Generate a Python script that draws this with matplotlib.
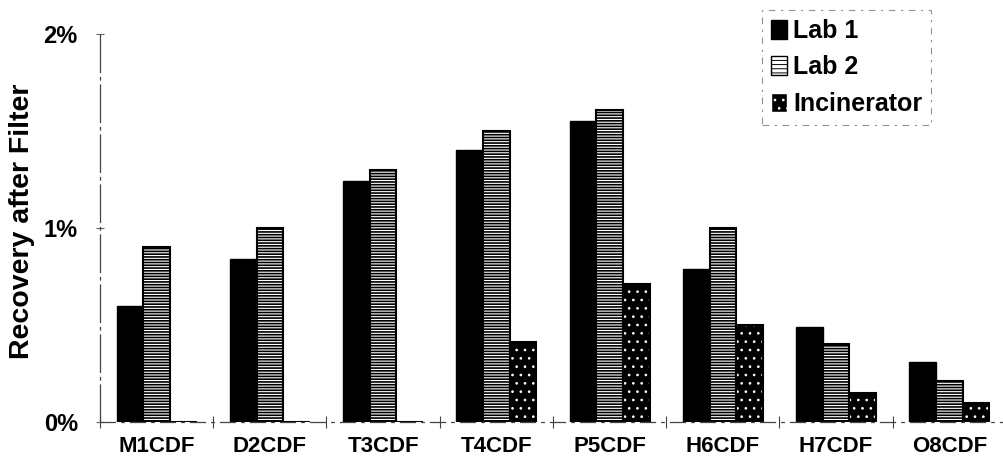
import numpy as np
import matplotlib.pyplot as plt
import matplotlib as mpl
from matplotlib.patches import Patch

mpl.rcParams.update({
    "font.family": ["Liberation Sans", "DejaVu Sans"],
    "font.weight": "bold",
    "hatch.linewidth": 1.2,
})

# values (percent)
categories = ["M1CDF", "D2CDF", "T3CDF", "T4CDF", "P5CDF", "H6CDF", "H7CDF", "O8CDF"]
lab1 = [0.60, 0.84, 1.24, 1.40, 1.55, 0.79, 0.49, 0.31]
lab2 = [0.90, 1.00, 1.30, 1.50, 1.61, 1.00, 0.40, 0.21]
incinerator = [0.0, 0.0, 0.0, 0.41, 0.71, 0.50, 0.15, 0.10]
series_names = ["Lab 1", "Lab 2", "Incinerator"]
y_ticks = [0, 1, 2]
y_ticklabels = ["0%", "1%", "2%"]

W, H = 1004, 466
fig = plt.figure(figsize=(W / 100, H / 100), dpi=100)
fig.patch.set_facecolor("white")
ax = fig.add_axes([100 / W, 44 / H, 906 / W, 388 / H])

x = np.arange(len(categories))
bw = 0.235

ax.bar(x - bw, lab1, width=bw, color="black", edgecolor="black", linewidth=1.0)
lab2_handle = Patch(facecolor="white", edgecolor="black", hatch="----")
ax.bar(x, lab2, width=bw, color="white", edgecolor="black", hatch="------", linewidth=1.5)

# incinerator: black with small white speckles, then a black outline over it
mpl.rcParams["hatch.linewidth"] = 0.7
ax.bar(x + bw, incinerator, width=bw, color="black", edgecolor="white", hatch="..", linewidth=0)
inc_handle = Patch(facecolor="black", edgecolor="white", hatch="..")
ax.bar(x + bw, incinerator, width=bw, fill=False, edgecolor="black", linewidth=1.5)

ax.set_xlim(-0.5, len(categories) - 0.5)
ax.set_ylim(0, 2)
ax.set_yticks(y_ticks)
ax.set_yticklabels(y_ticklabels, fontsize=17, fontweight="bold")
ax.set_xticks(x)
ax.set_xticklabels(categories, fontsize=16, fontweight="bold")
ax.set_xticks(np.arange(len(categories) + 1) - 0.5, minor=True)
ax.tick_params(axis="x", which="major", length=0, pad=10)
ax.tick_params(axis="x", which="minor", length=8, direction="inout", color="#444444", width=0.8)
ax.tick_params(axis="y", length=6, direction="inout", color="#666666", width=0.8, pad=13)

ax.set_ylabel("Recovery after Filter", fontsize=20.5, fontweight="bold")
ax.yaxis.set_label_coords(-0.072, 0.518)

for side in ["top", "right"]:
    ax.spines[side].set_visible(False)
ax.spines["left"].set_color("#444444")
ax.spines["left"].set_linewidth(0.9)
ax.spines["left"].set_linestyle((0, (30, 4, 2, 4)))
ax.spines["bottom"].set_color("#444444")
ax.spines["bottom"].set_linewidth(0.9)
ax.spines["bottom"].set_linestyle((0, (12, 5, 2, 5)))

handles = [Patch(facecolor="black", edgecolor="black"), lab2_handle, inc_handle]
leg = ax.legend(handles, series_names, loc="upper left",
                bbox_to_anchor=(762 / W, 1 - 10 / H), bbox_transform=fig.transFigure,
                prop={"size": 18, "weight": "bold"}, handlelength=0.65, handleheight=0.8,
                handletextpad=0.25, labelspacing=0.5, borderpad=0.35, borderaxespad=0,
                frameon=True, fancybox=False)
leg.get_frame().set_edgecolor("#777777")
leg.get_frame().set_linestyle((0, (6, 5, 2, 5)))
leg.get_frame().set_linewidth(0.8)

fig.savefig("out.png", dpi=100, facecolor="white")
